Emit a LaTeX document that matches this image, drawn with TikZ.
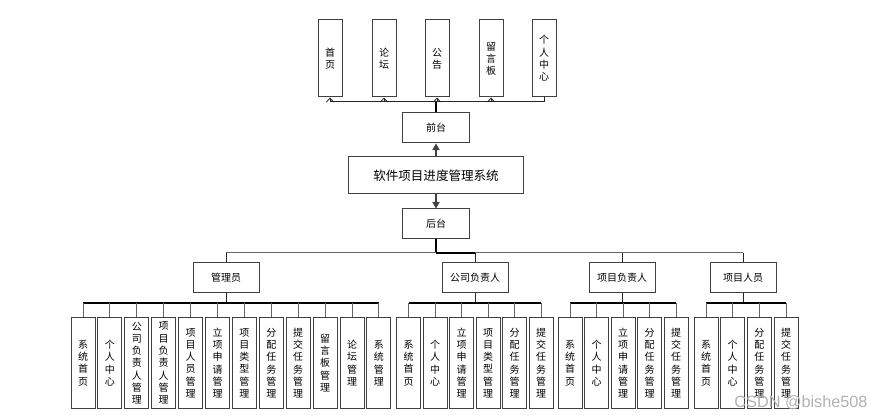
\documentclass[tikz,border=0pt]{standalone}
\usepackage{fontspec}
\newfontfamily\cjk{Noto Sans CJK SC}
\newfontfamily\wmfont{Liberation Sans}
\usetikzlibrary{arrows.meta}
\begin{document}
\begin{tikzpicture}[x=0.75pt,y=-0.75pt,
  box/.style={draw=black!75, line width=0.75pt, fill=white, inner sep=0pt, align=center},
  vbox/.style={box, minimum width=18pt, font=\cjk\fontsize{7.5}{9.2}\selectfont},
  leaf/.style={vbox, minimum height=67.5pt},
  topbox/.style={vbox, minimum height=57.75pt},
  hbox/.style={box, minimum width=50.25pt, minimum height=22.5pt, font=\cjk\fontsize{7.5}{9}\selectfont},
  rolebox/.style={box, minimum width=49.5pt, minimum height=22.5pt, font=\cjk\fontsize{7.5}{9}\selectfont},
  mainbox/.style={box, minimum width=131.25pt, minimum height=27.75pt, font=\cjk\fontsize{9.4}{11}\selectfont},
  conn/.style={draw=black!85, line width=0.75pt},
  tick/.style={draw=black!60, line width=0.75pt},
  heavy/.style={draw=black, line width=1.6pt},
  barb/.style={conn, -{Straight Barb[length=3pt,width=5.5pt,line width=0.6pt]}},
  tri/.style={draw=black!75, line width=0.9pt, -{Triangle[length=5pt,width=5.5pt]}},
]
\useasboundingbox (0,0) rectangle (871,420);
\fill[white] (0,0) rectangle (871,420);

% top row
\node[topbox] (t1) at (330,58.5) {首\\页};
\node[topbox] (t2) at (384,58.5) {论\\坛};
\node[topbox] (t3) at (437,58.5) {公\\告};
\node[topbox] (t4) at (491,58.5) {留\\言\\板};
\node[topbox] (t5) at (544,58.5) {个\\人\\中\\心};

\node[hbox] (front) at (436,128) {前台};
\node[mainbox] (main) at (436,175.5) {软件项目进度管理系统};
\node[hbox] (back) at (436,224) {后台};

\coordinate (tj) at (436,102);
\draw[heavy] (front.north) -- (tj);
\draw[conn] (t1.south |- tj) -- (t5.south |- tj);
\foreach \i in {1,2,3,4} \draw[barb] (t\i.south |- tj) -- (t\i.south);
\draw[conn] (t5.south |- tj) -- (t5.south);
\draw[tri] (main.north) -- (front.south);
\draw[tri] (main.south) -- (back.north);

% roles
\node[rolebox] (r1) at (226,278) {管理员};
\node[rolebox] (r2) at (475,278) {公司负责人};
\node[rolebox] (r3) at (622,278) {项目负责人};
\node[rolebox] (r4) at (743,278) {项目人员};

\coordinate (bj) at (436,253);
\draw[heavy] (back.south) -- (bj);
\draw[tick] (r1.north |- bj) -- (bj);
\draw[heavy] (bj) -- (r2.north |- bj);
\draw[tick] (r2.north |- bj) -- (r4.north |- bj);
\foreach \i in {1,2,3,4} \draw[conn] (r\i.north |- bj) -- (r\i.north);

% leaves of 管理员
\foreach \t [count=\i from 0] in {系\\统\\首\\页, 个\\人\\中\\心, 公\\司\\负\\责\\人\\管\\理, 项\\目\\负\\责\\人\\管\\理, 项\\目\\人\\员\\管\\理, 立\\项\\申\\请\\管\\理, 项\\目\\类\\型\\管\\理, 分\\配\\任\\务\\管\\理, 提\\交\\任\\务\\管\\理, 留\\言\\板\\管\\理, 论\\坛\\管\\理, 系\\统\\管\\理}
  \node[leaf] (a\i) at (83+26.9*\i,363) {\t};
% leaves of 公司负责人
\foreach \t [count=\i from 0] in {系\\统\\首\\页, 个\\人\\中\\心, 立\\项\\申\\请\\管\\理, 项\\目\\类\\型\\管\\理, 分\\配\\任\\务\\管\\理, 提\\交\\任\\务\\管\\理}
  \node[leaf] (b\i) at (408.5+26.5*\i,363) {\t};
% leaves of 项目负责人
\foreach \t [count=\i from 0] in {系\\统\\首\\页, 个\\人\\中\\心, 立\\项\\申\\请\\管\\理, 分\\配\\任\\务\\管\\理, 提\\交\\任\\务\\管\\理}
  \node[leaf] (c\i) at (570+26.5*\i,363) {\t};
% leaves of 项目人员
\foreach \t [count=\i from 0] in {系\\统\\首\\页, 个\\人\\中\\心, 分\\配\\任\\务\\管\\理, 提\\交\\任\\务\\管\\理}
  \node[leaf] (d\i) at (706+26.7*\i,363) {\t};

% leaf connectors
\coordinate (aj) at (226,303);
\draw[conn] (r1.south) -- (r1.south |- aj);
\draw[heavy, line width=1.2pt] (a0.north |- aj) -- (a11.north |- aj);
\foreach \i in {0,...,11} \draw[tick] (a\i.north |- aj) -- (a\i.north);

\draw[conn] (r2.south) -- (r2.south |- aj);
\draw[heavy, line width=1.2pt] (b0.north |- aj) -- (b5.north |- aj);
\foreach \i in {0,...,5} \draw[tick] (b\i.north |- aj) -- (b\i.north);

\draw[conn] (r3.south) -- (r3.south |- aj);
\draw[heavy, line width=1.2pt] (c0.north |- aj) -- (c4.north |- aj);
\foreach \i in {0,...,4} \draw[tick] (c\i.north |- aj) -- (c\i.north);

\draw[conn] (r4.south) -- (r4.south |- aj);
\draw[heavy, line width=1.2pt] (d0.north |- aj) -- (d3.north |- aj);
\foreach \i in {0,...,3} \draw[tick] (d\i.north |- aj) -- (d\i.north);

% watermark
\node[text=black!30, font=\wmfont\fontsize{12.2}{14}\selectfont, inner sep=0pt] (wm) at (801,403) {CSDN @bishe508};
\end{tikzpicture}
\end{document}
